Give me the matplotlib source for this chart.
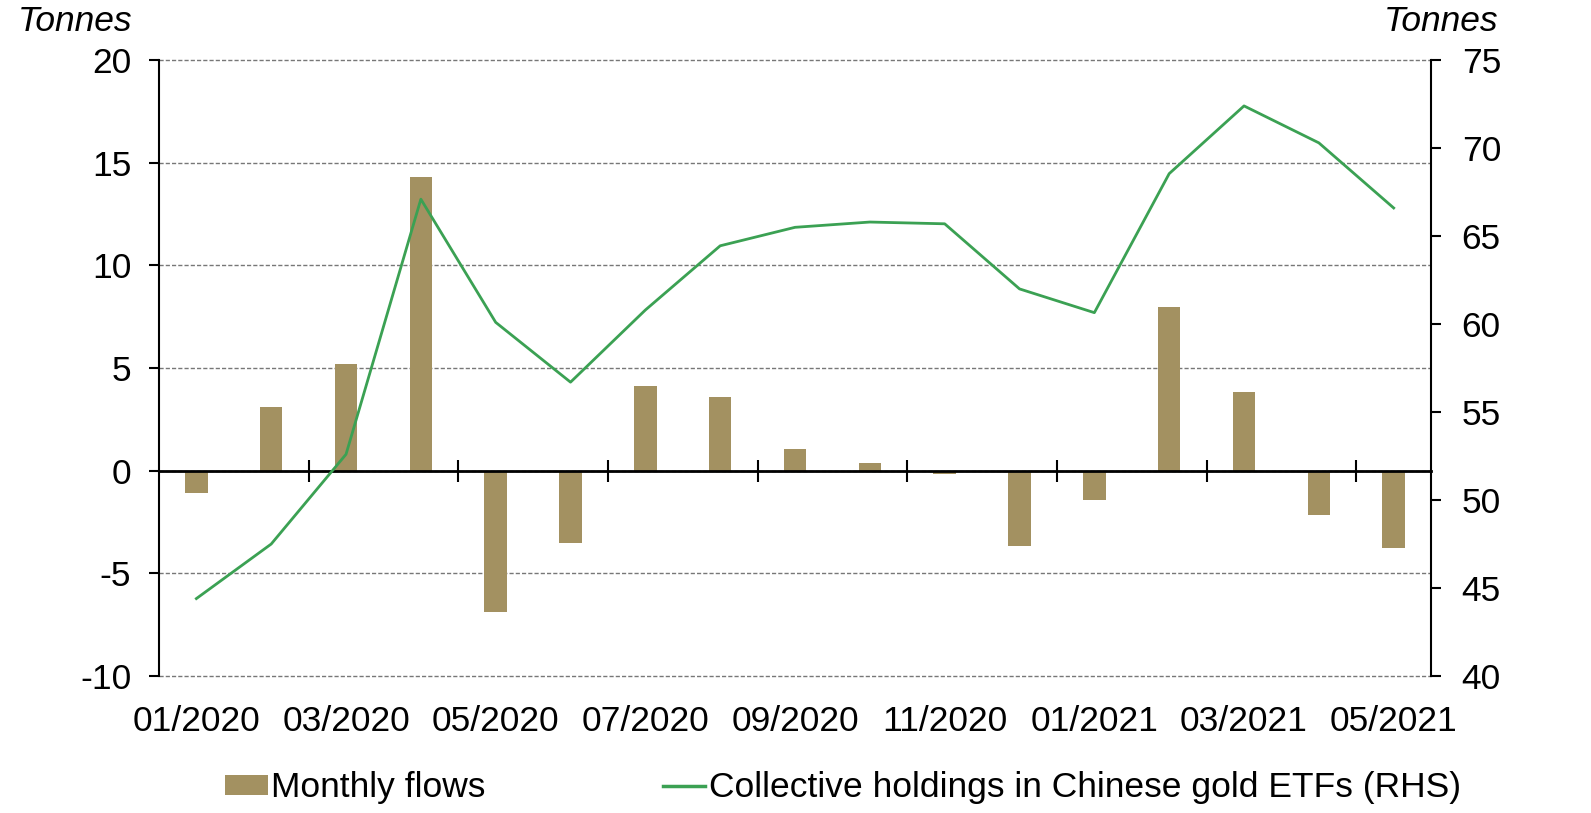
import numpy as np
import matplotlib
matplotlib.use("Agg")
import matplotlib.pyplot as plt
from matplotlib.patches import Patch
from matplotlib.lines import Line2D

plt.rcParams['font.family'] = ['Liberation Sans', 'DejaVu Sans']
plt.rcParams['axes.unicode_minus'] = False

months = ["01/2020", "02/2020", "03/2020", "04/2020", "05/2020", "06/2020",
          "07/2020", "08/2020", "09/2020", "10/2020", "11/2020", "12/2020",
          "01/2021", "02/2021", "03/2021", "04/2021", "05/2021"]
flows = [-1.1, 3.1, 5.2, 14.3, -6.9, -3.5, 4.15, 3.6, 1.05, 0.4, -0.15,
         -3.65, -1.45, 8.0, 3.85, -2.15, -3.75]
holdings = [44.4, 47.5, 52.6, 67.1, 60.1, 56.7, 60.8, 64.45, 65.5, 65.8,
            65.7, 62.0, 60.65, 68.55, 72.4, 70.3, 66.6]

bar_color = "#A39161"
line_color = "#3BA153"
fs = 25.5

fig = plt.figure(figsize=(15.91, 8.13), dpi=100)
ax = fig.add_axes([0.0999, 0.1685, 0.7996, 0.7575])
x = np.arange(len(months))

ax.bar(x, flows, width=0.3, color=bar_color, zorder=2)
ax.set_xlim(-0.5, len(months) - 0.5)
ax.set_ylim(-10, 20)
ax.set_yticks(np.arange(-10, 21, 5))
ax.yaxis.grid(True, linestyle=(0, (3, 1.5)), color="#777777", linewidth=1.0, zorder=0)
ax.set_axisbelow(True)
for gl in ax.get_ygridlines():
    gl.set_clip_on(False)

for s in ["top", "right"]:
    ax.spines[s].set_visible(False)
ax.spines["left"].set_linewidth(1.5)
ax.spines["bottom"].set_position(("data", 0))
ax.spines["bottom"].set_linewidth(2.0)
ax.spines["bottom"].set_zorder(3)

# boundary ticks between every two months, crossing the zero line
ax.set_xticks(np.arange(1.5, len(months) - 1, 2))
ax.tick_params(axis="x", direction="inout", length=16, width=1.5, labelbottom=False)
ax.tick_params(axis="y", direction="out", length=7, width=1.5, labelsize=fs, pad=13)

sec = ax.secondary_xaxis("bottom")
sec.spines["bottom"].set_visible(False)
sec.set_xticks(x[::2], months[::2])
sec.tick_params(axis="x", length=0, labelsize=fs, pad=21)

ax2 = ax.twinx()
ax2.plot(x, holdings, color=line_color, linewidth=2.0, zorder=4)
ax2.set_ylim(40, 75)
ax2.set_yticks(np.arange(40, 76, 5))
for s in ["top", "left", "bottom"]:
    ax2.spines[s].set_visible(False)
ax2.spines["right"].set_linewidth(1.5)
ax2.tick_params(axis="y", direction="out", length=7, width=1.5, labelsize=fs, pad=15)

fig.text(0.083, 0.974, "Tonnes", fontsize=fs, style="italic", ha="right", va="center")
fig.text(0.942, 0.974, "Tonnes", fontsize=fs, style="italic", ha="right", va="center")

handles = [Patch(facecolor=bar_color, edgecolor="none"),
           Line2D([], [], color=line_color, linewidth=2.5)]
labels = ["Monthly flows", "Collective holdings in Chinese gold ETFs (RHS)"]
fig.legend(handles, labels, loc="center", bbox_to_anchor=(0.530, 0.031), ncol=2,
           frameon=False, fontsize=fs, handlelength=1.2, handleheight=0.5,
           handletextpad=0.1, columnspacing=5.0)

fig.savefig("out.png", dpi=100)
